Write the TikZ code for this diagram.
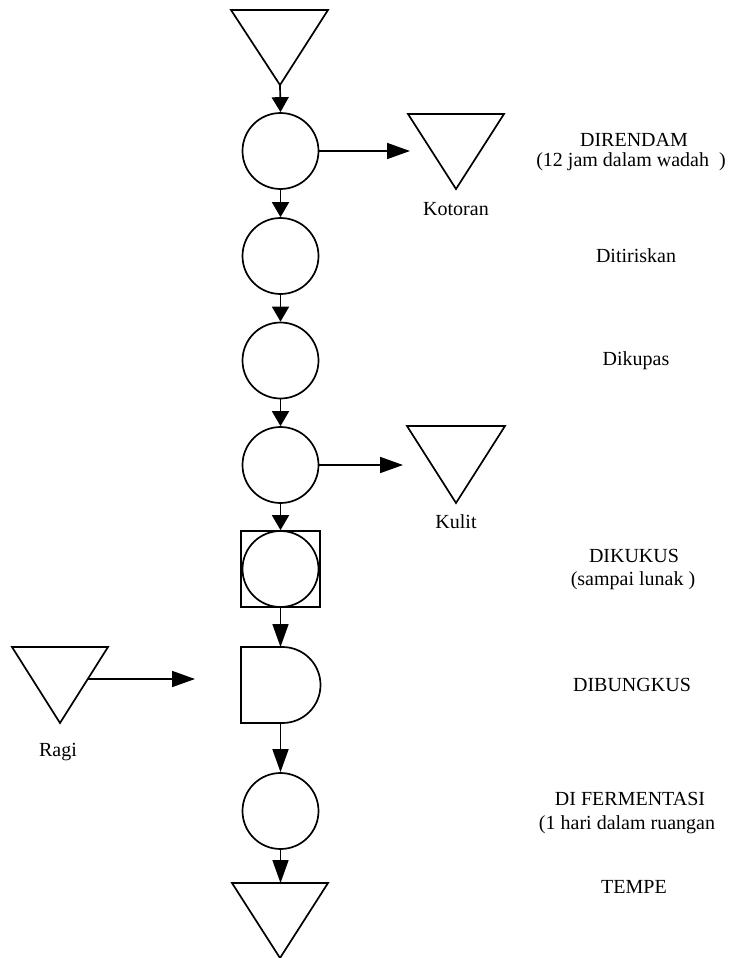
\documentclass[tikz,border=0pt]{standalone}
\usepackage{fontspec}
\setmainfont{Liberation Serif}
\usetikzlibrary{arrows.meta}
\begin{document}
\begin{tikzpicture}[x=1pt,y=-1pt,
  line width=1.7pt,
  shortarr/.style={-{Triangle[length=15pt,width=17pt]}},
  longarr/.style={-{Triangle[length=23pt,width=16pt]}},
  opcircle/.style={circle,draw,minimum size=76pt,inner sep=0pt},
  lbl/.style={anchor=base,inner sep=0pt,font=\fontsize{20}{24}\selectfont}]
\useasboundingbox (0,0) rectangle (739,958);
% top triangle
\draw (231,10) -- (328,10) -- (280,85) -- cycle;
\coordinate (t0) at (280,85);
% circles
\node[opcircle] (c1) at (280.5,151) {};
\node[opcircle] (c2) at (280.5,256) {};
\node[opcircle] (c3) at (280.5,360.5) {};
\node[opcircle] (c4) at (280.5,465) {};
% square with circle
\node[draw,rectangle,minimum width=79pt,minimum height=76pt,inner sep=0pt] (sq) at (280.5,569) {};
\node[opcircle] (sqc) at (280.5,569) {};
% D shape (delay)
\draw (241,647) -- (282.5,647) arc[start angle=-90,end angle=90,radius=38] -- (241,723) -- cycle;
\coordinate (dtop) at (280.5,647);
\coordinate (dbot) at (280.5,723);
\node[opcircle] (c7) at (280.5,811) {};
% final triangle
\draw (232,883) -- (328,883) -- (280,958) -- cycle;
\coordinate (tend) at (280.5,883);
% side triangles
\draw (408,114) -- (504,114) -- (456,189) -- cycle;
\coordinate (kot) at (410,151);
\draw (407,426) -- (505,426) -- (456,503) -- cycle;
\coordinate (kul) at (403,465);
\draw (12,647) -- (108,647) -- (60,723) -- cycle;
\coordinate (ragi) at (88,679);
\coordinate (ragiend) at (195,679);
% connectors
\draw[shortarr] (t0) -- (c1.north);
\draw[shortarr] (c1.south) -- (c2.north);
\draw[shortarr] (c2.south) -- (c3.north);
\draw[shortarr] (c3.south) -- (c4.north);
\draw[shortarr] (c4.south) -- (sq.north);
\draw[longarr] (sq.south) -- (dtop);
\draw[longarr] (dbot) -- (c7.north);
\draw[longarr] (c7.south) -- (tend);
\draw[longarr] (c1.east) -- (kot);
\draw[longarr] (c4.east) -- (kul);
\draw[longarr] (ragi) -- (ragiend);
% labels
\node[lbl] (lkot) at (456,215) {Kotoran};
\node[lbl] (lkul) at (456,528) {Kulit};
\node[lbl] (lragi) at (58,756) {Ragi};
\node[lbl] (l1a) at (634,146) {DIRENDAM};
\node[lbl] (l1b) at (631,166) {(12 jam dalam wadah\ \ )};
\node[lbl] (l2) at (636,262) {Ditiriskan};
\node[lbl] (l3) at (636,365) {Dikupas};
\node[lbl] (l4a) at (634,562) {DIKUKUS};
\node[lbl] (l4b) at (633,585) {(sampai lunak\ )};
\node[lbl] (l5) at (632,691) {DIBUNGKUS};
\node[lbl] (l6a) at (630,805) {DI FERMENTASI};
\node[lbl] (l6b) at (627,829) {(1 hari dalam ruangan};
\node[lbl] (l7) at (634,893) {TEMPE};
\end{tikzpicture}
\end{document}
